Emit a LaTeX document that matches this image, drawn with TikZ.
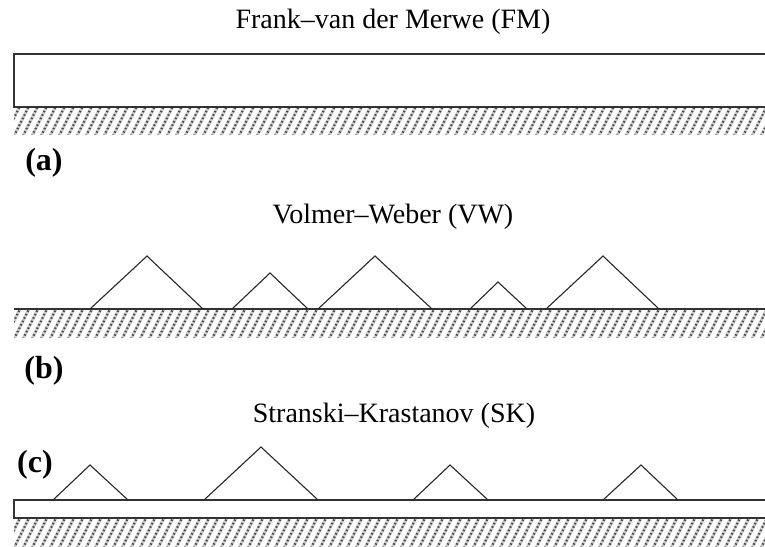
\documentclass[tikz,border=0pt]{standalone}
\usepackage{fontspec}
\setmainfont{Liberation Serif}
\newcommand\mysubstrate[2]{%
  \begin{scope}
    \clip (14,#1) rectangle (766,#2);
    \foreach \i in {0,...,88} {
      \draw[hatchbase] (\i*9-4,#2+2) -- ++(16,-32);
      \draw[hatchdot] (\i*9-4,#2+2) -- ++(16,-32);
    }
  \end{scope}}
\begin{document}
\begin{tikzpicture}[x=1pt,y=-1pt,
  film/.style={draw=black!80, line width=1.3pt, fill=white},
  baseline/.style={draw=black!80, line width=1.3pt},
  isle/.style={draw=black!85, line width=1.1pt, line join=miter},
  hatchbase/.style={draw=gray!40, line width=3pt},
  hatchdot/.style={draw=black!72, line width=2.2pt, dash pattern=on 1.4pt off 2.4pt},
  title/.style={font=\fontsize{28}{32}\selectfont, anchor=base},
  plabel/.style={font=\bfseries\fontsize{32}{36}\selectfont, anchor=center}]
\useasboundingbox (0,0) rectangle (765,546);
\clip (0,0) rectangle (765,546);

% (a) Frank-van der Merwe
\node[title] (tFM) at (393,28) {Frank–van der Merwe (FM)};
\mysubstrate{107}{134}
\draw[film] (14,54) rectangle (775,107);
\node[plabel] (la) at (44,163) {(a)};

% (b) Volmer-Weber
\node[title] (tVW) at (393,223) {Volmer–Weber (VW)};
\mysubstrate{309}{337}
\draw[baseline] (14,309) -- (775,309);
\draw[isle] (90,309) -- (147,256) -- (203,309);
\draw[isle] (232,309) -- (270,273) -- (308,309);
\draw[isle] (318,309) -- (375,256) -- (432,309);
\draw[isle] (470,309) -- (498,282) -- (527,309);
\draw[isle] (546,309) -- (603,256) -- (659,309);
\node[plabel] (lb) at (44,371) {(b)};

% (c) Stranski-Krastanov
\node[title] (tSK) at (394,422) {Stranski–Krastanov (SK)};
\mysubstrate{518}{546}
\draw[film] (14,500) rectangle (775,518);
\draw[isle] (53,500) -- (90,465) -- (128,500);
\draw[isle] (204,500) -- (261,447) -- (318,500);
\draw[isle] (413,500) -- (450,465) -- (488,500);
\draw[isle] (603,500) -- (641,465) -- (678,500);
\node[plabel] (lc) at (35,465) {(c)};
\end{tikzpicture}
\end{document}
